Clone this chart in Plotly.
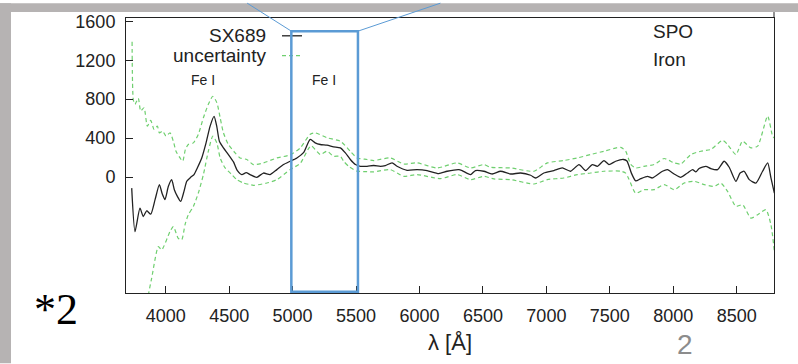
import plotly.graph_objects as go

# ---------------- data ----------------
wl_flux = [3732, 3758, 3797, 3823, 3850, 3882, 3916, 3950, 3973, 3994, 4021, 4047, 4068, 4092,
           4118, 4144, 4166, 4197, 4223, 4249, 4284, 4318, 4350, 4381, 4402, 4423, 4455, 4494,
           4534, 4565, 4600, 4634, 4665, 4718, 4770, 4823, 4876, 4928, 4981, 5034, 5086, 5139,
           5178, 5218, 5271, 5323, 5376, 5416, 5455, 5495, 5534, 5587, 5639, 5692, 5731, 5784,
           5823, 5902, 5981, 6060, 6152, 6218, 6310, 6336, 6402, 6441, 6507, 6573, 6639, 6718,
           6797, 6876, 6915, 6980, 7059, 7126, 7191, 7257, 7310, 7362, 7402, 7454, 7493, 7546,
           7607, 7635, 7670, 7704, 7744, 7797, 7836, 7915, 7954, 8007, 8060, 8112, 8152, 8178,
           8204, 8257, 8296, 8349, 8401, 8441, 8494, 8527, 8559, 8599, 8652, 8704, 8744, 8770,
           8797]
flux = [-114, -560, -320, -406, -347, -382, -233, -78, -175, -233, -96, -27, -130, -199,
        -251, -148, -44, -3, 25, 93, 196, 351, 523, 623, 523, 368, 299, 231,
        155, 66, 25, 45, 25, -3, 41, 25, 76, 128, 162, 196, 250, 386,
        351, 334, 327, 310, 299, 248, 180, 128, 110, 110, 118, 110, 118, 145,
        110, 69, 76, 66, 35, 59, 76, 66, 25, 66, 59, 31, 59, 31,
        41, 18, -10, 41, 66, 93, 59, 128, 66, 128, 110, 169, 128, 162,
        180, 165, 40, -40, -17, 7, -10, 59, 76, 31, -3, 41, 76, 52,
        87, 110, 87, 76, 162, 100, -44, 41, 59, -27, -62, 59, 145, -10,
        -165]

wl_upper = [3735, 3745, 3758, 3784, 3803, 3829, 3855, 3882, 3908, 3934, 3950, 3976, 4002, 4034,
            4060, 4081, 4113, 4134, 4155, 4178, 4218, 4257, 4297, 4336, 4371, 4403, 4429, 4455,
            4494, 4547, 4586, 4639, 4691, 4770, 4876, 4981, 5060, 5139, 5178, 5271, 5376, 5455,
            5508, 5587, 5639, 5770, 5875, 5981, 6139, 6297, 6402, 6507, 6560, 6718, 6902, 7007,
            7138, 7244, 7349, 7454, 7586, 7625, 7665, 7704, 7770, 7849, 7928, 8007, 8060, 8139,
            8217, 8296, 8388, 8428, 8494, 8546, 8612, 8665, 8744, 8783, 8797]
upper = [1390, 790, 747, 809, 678, 712, 523, 582, 489, 523, 454, 472, 420, 454,
         368, 265, 196, 162, 283, 334, 351, 438, 609, 747, 830, 764, 609, 454,
         334, 248, 196, 180, 128, 145, 196, 228, 299, 440, 454, 403, 368, 265,
         196, 180, 169, 196, 134, 145, 93, 145, 93, 128, 100, 93, 59, 145,
         169, 196, 231, 265, 305, 265, 130, 93, 110, 128, 190, 145, 134, 231,
         265, 283, 376, 334, 231, 368, 299, 317, 626, 420, 400]

wl_lower = [3830, 3863, 3889, 3942, 3968, 4034, 4060, 4099, 4126, 4152, 4178, 4218, 4257, 4297,
            4336, 4371, 4403, 4429, 4468, 4521, 4560, 4612, 4665, 4691, 4797, 4876, 4981, 5060,
            5145, 5218, 5271, 5323, 5376, 5402, 5442, 5481, 5508, 5587, 5639, 5770, 5875, 5981,
            6165, 6297, 6402, 6507, 6586, 6718, 6902, 7007, 7138, 7244, 7349, 7454, 7586, 7625,
            7650, 7704, 7770, 7849, 7928, 8007, 8086, 8165, 8244, 8323, 8375, 8428, 8494, 8546,
            8612, 8665, 8730, 8770, 8797]
lower = [-1500, -1214, -1042, -715, -749, -560, -509, -630, -646, -491, -388, -302, -165, 25,
         265, 420, 351, 196, 93, 25, -27, -62, -78, -86, -62, -27, 76, 140,
         320, 231, 265, 214, 214, 162, 110, 76, 60, 55, 52, 76, 7, 25,
         -17, 25, -27, 7, -20, -27, -72, -27, -10, 25, 41, 59, 60, 40,
         -20, -165, -130, -130, -78, -130, -62, -44, -78, -96, -62, -148, -302, -285,
         -423, -388, -336, -491, -767]

x_ticks = [4000, 4500, 5000, 5500, 6000, 6500, 7000, 7500, 8000, 8500]
y_ticks = [0, 400, 800, 1200, 1600]
x_range = [3687, 8794]
y_range = [-1192, 1634]
box_range = [4990, 5515]

# ---------------- styling ----------------
W, H = 798, 364
L, R, T, B = 126, 774, 15, 293
BLACK = "#222222"
GREEN = "#6fcf6f"
BLUE = "#5b9bd5"
GRAY = "#b6b3b3"
SANS = "Liberation Sans, Arial, sans-serif"


def pxx(x):
    return (x - L) / (R - L)


def pxy(y):
    return (B - y) / (B - T)


fig = go.Figure()
fig.add_trace(go.Scatter(x=wl_upper, y=upper, mode="lines", showlegend=False,
                         line=dict(color=GREEN, width=1.2, dash="4px,3px",
                                   shape="spline", smoothing=0.6)))
fig.add_trace(go.Scatter(x=wl_lower, y=lower, mode="lines", showlegend=False,
                         line=dict(color=GREEN, width=1.2, dash="4px,3px",
                                   shape="spline", smoothing=0.6)))
fig.add_trace(go.Scatter(x=wl_flux, y=flux, mode="lines", showlegend=False,
                         line=dict(color=BLACK, width=1.3, shape="spline", smoothing=0.6)))

axis_common = dict(showline=True, linecolor=BLACK, linewidth=1, mirror=True,
                   ticks="inside", ticklen=7, tickcolor=BLACK, tickwidth=1,
                   showgrid=False, zeroline=False,
                   tickfont=dict(family=SANS, size=18, color="#222222"))

fig.update_layout(
    width=W, height=H,
    margin=dict(l=L, r=W - R, t=T, b=H - B, pad=0),
    paper_bgcolor="white", plot_bgcolor="white",
    xaxis=dict(range=x_range, tickvals=x_ticks, ticklabelstandoff=6, **axis_common),
    yaxis=dict(range=y_range, tickvals=y_ticks, ticklabelstandoff=6, **axis_common),
)

shapes = [
    # slide gray strips
    dict(type="rect", xref="paper", yref="paper", x0=pxx(0), x1=pxx(W), y0=pxy(0), y1=pxy(9),
         fillcolor=GRAY, line=dict(width=0), layer="below"),
    dict(type="rect", xref="paper", yref="paper", x0=pxx(0), x1=pxx(11), y0=pxy(0), y1=pxy(H),
         fillcolor=GRAY, line=dict(width=0), layer="below"),
    # right frame extension
    dict(type="line", xref="paper", yref="paper", x0=1, x1=1, y0=1, y1=pxy(9),
         line=dict(color=BLACK, width=1)),
    # legend samples
    dict(type="line", xref="paper", yref="paper", x0=pxx(282), x1=pxx(302), y0=pxy(33), y1=pxy(33),
         line=dict(color=BLACK, width=1.3)),
    dict(type="line", xref="paper", yref="paper", x0=pxx(282), x1=pxx(302), y0=pxy(53), y1=pxy(53),
         line=dict(color=GREEN, width=1.2, dash="4px,3px")),
    # blue highlight box and connectors
    dict(type="rect", xref="x", yref="paper", x0=box_range[0], x1=box_range[1],
         y0=pxy(291.7), y1=pxy(28.3), line=dict(color=BLUE, width=2.5), layer="above"),
    dict(type="line", xref="x", yref="paper", x0=box_range[0], x1=4642,
         y0=pxy(28.3), y1=pxy(0), line=dict(color=BLUE, width=1)),
    dict(type="line", xref="x", yref="paper", x0=box_range[1], x1=6165,
         y0=pxy(28.3), y1=pxy(0), line=dict(color=BLUE, width=1)),
]
fig.update_layout(shapes=shapes)

ann = [
    dict(text="SX689", x=pxx(268), y=pxy(33), xanchor="right", yanchor="middle",
         font=dict(family=SANS, size=19, color="#222")),
    dict(text="uncertainty", x=pxx(268), y=pxy(53), xanchor="right", yanchor="middle",
         font=dict(family=SANS, size=19, color="#222")),
    dict(text="Fe I", x=pxx(202.5), y=pxy(78), xanchor="center", yanchor="middle",
         font=dict(family=SANS, size=14, color="#222")),
    dict(text="Fe I", x=pxx(324), y=pxy(78), xanchor="center", yanchor="middle",
         font=dict(family=SANS, size=14, color="#222")),
    dict(text="SPO", x=pxx(651), y=pxy(28.5), xanchor="left", yanchor="middle",
         font=dict(family=SANS, size=19, color="#222")),
    dict(text="Iron", x=pxx(651), y=pxy(57), xanchor="left", yanchor="middle",
         font=dict(family=SANS, size=19, color="#222")),
    dict(text="λ [Å]", x=pxx(450), y=pxy(343), xanchor="center", yanchor="middle",
         font=dict(family=SANS, size=22, color="#222")),
    dict(text="*2", x=pxx(55.5), y=pxy(310), xanchor="center", yanchor="middle",
         font=dict(family="Liberation Serif, Times New Roman, serif", size=44, color="black")),
    dict(text="2", x=pxx(685), y=pxy(345), xanchor="center", yanchor="middle",
         font=dict(family=SANS, size=28, color="#8c8c8c")),
]
for a in ann:
    a.update(xref="paper", yref="paper", showarrow=False)
fig.update_layout(annotations=ann)

fig.write_html("out.html")
